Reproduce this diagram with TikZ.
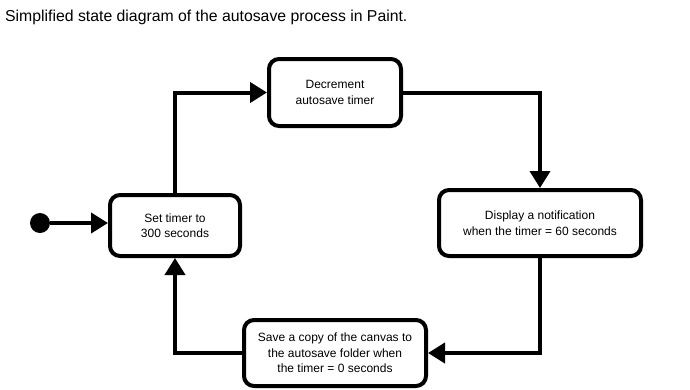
\documentclass[tikz,border=0pt]{standalone}
\usepackage{fontspec}
\setmainfont{Liberation Sans}
\usetikzlibrary{arrows.meta}
\begin{document}
\begin{tikzpicture}[x=1pt,y=-1pt,
  statebox/.style={draw=black,line width=4pt,rounded corners=10pt,fill=white,
    align=center,font=\fontsize{12}{15.5}\selectfont,inner sep=2pt},
  flow/.style={line width=4pt,-{Triangle[length=17pt,width=20pt]}},
]
\useasboundingbox (0,0) rectangle (690,389);
\fill[white] (0,0) rectangle (690,389);
\node[anchor=base west,font=\fontsize{15.8}{18}\selectfont,inner sep=0pt] (title) at (5,21)
  {Simplified state diagram of the autosave process in Paint.};

\node[statebox,minimum width=130pt,minimum height=61pt] (set) at (175,225.5)
  {Set timer to\\300 seconds};
\node[statebox,minimum width=132pt,minimum height=67pt] (dec) at (335,92.5)
  {Decrement\\autosave timer};
\node[statebox,minimum width=202pt,minimum height=66pt] (disp) at (540,223)
  {Display a notification\\when the timer = 60 seconds};
\node[statebox,minimum width=182pt,minimum height=66pt] (save) at (335,353)
  {Save a copy of the canvas to\\the autosave folder when\\the timer = 0 seconds};

\node[circle,fill=black,minimum size=20pt,inner sep=0pt] (init) at (40,223) {};

\draw[flow] (init.east) -- (init.east -| set.west);
\draw[flow] (set.north) |- (dec.west);
\draw[flow] (dec.east) -| (disp.north);
\draw[flow] (disp.south) |- (save.east);
\draw[flow] (save.west) -| (set.south);
\end{tikzpicture}
\end{document}
